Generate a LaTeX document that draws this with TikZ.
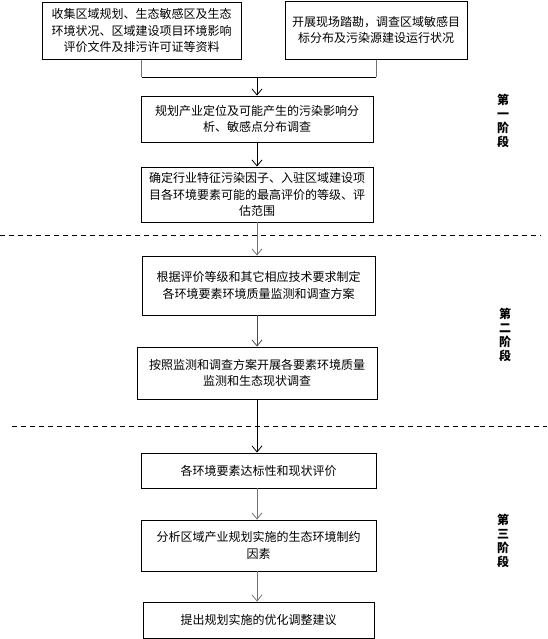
\documentclass[tikz,border=0pt]{standalone}
\usepackage{fontspec}
\newfontfamily\cjk{Noto Sans CJK SC}
\usetikzlibrary{arrows.meta}
\begin{document}
\begin{tikzpicture}[x=1pt,y=-1pt,
  box/.style={draw=black,line width=0.9pt,inner sep=0pt,align=center,
    font=\cjk\fontsize{12}{16.5}\selectfont},
  conn/.style={line width=0.9pt,draw=black},
  gconn/.style={line width=0.9pt,draw=black!55},
  tipd/.style={-{Straight Barb[length=6pt,width=10pt,line width=0.8pt]}},
  phase/.style={align=center,inner sep=0pt,font=\cjk\bfseries\fontsize{12}{14}\selectfont},
  divider/.style={line width=0.8pt,dash pattern=on 5pt off 4pt}]
\useasboundingbox (0,0) rectangle (547,639);

% boxes
\node[box,minimum width=199pt,minimum height=57pt] (b1) at (141.5,30.6)
  {收集区域规划、生态敏感区及生态\\环境状况、区域建设项目环境影响\\评价文件及排污许可证等资料};
\node[box,minimum width=182pt,minimum height=58pt] (b2) at (376,30.2)
  {开展现场踏勘，调查区域敏感目\\标分布及污染源建设运行状况};
\node[box,minimum width=232pt,minimum height=46pt] (b3) at (257,119)
  {规划产业定位及可能产生的污染影响分\\析、敏感点分布调查};
\node[box,minimum width=232pt,minimum height=55pt] (b4) at (257,194.5)
  {确定行业特征污染因子、入驻区域建设项\\目各环境要素可能的最高评价的等级、评\\估范围};
\node[box,minimum width=233pt,minimum height=59pt] (b5) at (258.5,285.5)
  {根据评价等级和其它相应技术要求制定\\各环境要素环境质量监测和调查方案};
\node[box,minimum width=240pt,minimum height=52pt] (b6) at (257,373)
  {按照监测和调查方案开展各要素环境质量\\监测和生态现状调查};
\node[box,minimum width=235pt,minimum height=35pt] (b7) at (258.5,470.5)
  {各环境要素达标性和现状评价};
\node[box,minimum width=235pt,minimum height=51pt] (b8) at (258.5,545.5)
  {分析区域产业规划实施的生态环境制约\\因素};
\node[box,minimum width=231pt,minimum height=36pt] (b9) at (258.5,620)
  {提出规划实施的优化调整建议};

% phase labels
\node[phase] (p1) at (503,121) {第\\一\\阶\\段};
\node[phase] (p2) at (505,335) {第\\二\\阶\\段};
\node[phase] (p3) at (503,541) {第\\三\\阶\\段};

% dividers
\coordinate (d1l) at (0,235);
\coordinate (d1r) at (541,235);
\coordinate (d2l) at (12,426);
\coordinate (d2r) at (547,426);
\draw[divider] (d1l) -- (d1r);
\draw[divider] (d2l) -- (d2r);

% connectors
\coordinate (j1) at (141.5,77);
\coordinate (j2) at (376,77);
\coordinate (jm) at (257,77);
\draw[gconn] (b1.south) -- (j1);
\draw[gconn] (b2.south) -- (j2);
\draw[conn] (j1) -- (j2);
\draw[conn,tipd] (jm) -- (jm |- b3.north);
\draw[conn,tipd] (jm |- b3.south) -- (jm |- b4.north);
\draw[gconn,tipd] (jm |- b4.south) -- (jm |- b5.north);
\draw[conn,draw=black!70,tipd] (jm |- b5.south) -- (jm |- b6.north);
\draw[conn,tipd] (jm |- b6.south) -- (jm |- b7.north);
\draw[gconn,tipd] (jm |- b7.south) -- (jm |- b8.north);
\draw[gconn,tipd] (jm |- b8.south) -- (jm |- b9.north);
\end{tikzpicture}
\end{document}
